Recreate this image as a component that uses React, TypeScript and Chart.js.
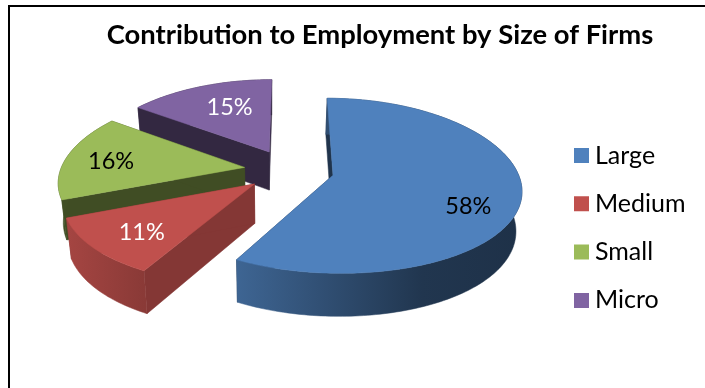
import React, { useEffect, useRef } from "react";
import { Chart, registerables } from "chart.js";

Chart.register(...registerables);

const categories = ["Large", "Medium", "Small", "Micro"];
const shares = [58, 11, 16, 15];
const topColors = ["#4f81bd", "#c0504d", "#9bbb59", "#8064a2"];
const labelColors = ["#000000", "#ffffff", "#000000", "#ffffff"];
const chartTitle = "Contribution to Employment by Size of Firms";

// Tilted-pie camera: where the pie hub lands on screen, and how strongly depth recedes.
const HUB = { x: 289, y: 170 };
const TILT_HEIGHT = 85;
const RECEDE_Y = 0.12;
const RECEDE_X = 0.15;
const WALL = { vanishX: 270, shrink: 0.976, depth: 38, depthGrow: 0.04, refY: 148 };
const RADIAL_SHADE = [0.4, 0.69, 0.41, 0.4];
const RIM_SHADE = [
  [[0, 0.78], [0.65, 0.42], [1, 0.38]],
  [[0, 0.86], [1, 0.72]],
  [[0, 0.42], [1, 0.42]],
  [[0, 0.4], [1, 0.4]],
];
const LABEL_RADIUS = 0.72;
const LABEL_NUDGE = [[1, 15], [0, 4], [-5, 2], [12, 4]];
const DRAW_ORDER = [0, 3, 2, 1];

function shade(hex: string, f: number) {
  const n = parseInt(hex.slice(1), 16);
  const c = [(n >> 16) & 255, (n >> 8) & 255, n & 255].map((v) => Math.round(v * f));
  return `rgb(${c[0]},${c[1]},${c[2]})`;
}

type P = { x: number; y: number };

const tiltedPie = {
  id: "tiltedPie",
  afterLayout(chart: any) {
    const t = chart.titleBlock;
    t.left = 0;
    t.right = 760;
    t.top = 35 - t.height / 2;
    const l = chart.legend;
    l.left = 557.2;
    l.top = 119.7;
  },
  beforeDatasetDraw(chart: any, args: any) {
    const ctx: CanvasRenderingContext2D = chart.ctx;
    const arcs = args.meta.data;
    const project = (mx: number, mz: number, R: number): P => ({
      x: HUB.x + mx / (1 - (RECEDE_X * mz) / R),
      y: HUB.y + (TILT_HEIGHT * (mz / R)) / (1 - (RECEDE_Y * mz) / R),
    });
    const lower = (p: P): P => ({
      x: WALL.vanishX + (p.x - WALL.vanishX) * WALL.shrink,
      y: p.y + WALL.depth + (p.y - WALL.refY) * WALL.depthGrow,
    });
    const polygon = (pts: P[], fill: string | CanvasGradient) => {
      ctx.beginPath();
      pts.forEach((p, i) => (i ? ctx.lineTo(p.x, p.y) : ctx.moveTo(p.x, p.y)));
      ctx.closePath();
      ctx.fillStyle = fill;
      ctx.fill();
      ctx.strokeStyle = fill;
      ctx.lineWidth = 0.5;
      ctx.stroke();
    };

    const geometry = arcs.map((el: any) => {
      const { startAngle, endAngle, outerRadius: R } = el.getProps(["startAngle", "endAngle", "outerRadius"]);
      const mid = (startAngle + endAngle) / 2;
      const off = el.options.offset;
      const ox = Math.cos(mid) * off;
      const oz = Math.sin(mid) * off;
      const at = (a: number, r: number) => project(ox + Math.cos(a) * r, oz + Math.sin(a) * r, R);
      const rim: P[] = [];
      const steps = Math.ceil((endAngle - startAngle) / 0.02);
      for (let s = 0; s <= steps; s++) rim.push(at(startAngle + ((endAngle - startAngle) * s) / steps, R));
      return { apex: at(0, 0), rim, mid, R, at };
    });

    DRAW_ORDER.forEach((i) => {
      const { apex, rim } = geometry[i];
      const base = topColors[i];
      const side = shade(base, RADIAL_SHADE[i]);
      const first = rim[0];
      const last = rim[rim.length - 1];
      polygon([apex, first, lower(first), lower(apex)], side);
      polygon([apex, last, lower(last), lower(apex)], side);
      const xs = rim.map((p: P) => p.x);
      const grad = ctx.createLinearGradient(Math.min(...xs), 0, Math.max(...xs), 0);
      RIM_SHADE[i].forEach(([stop, f]) => grad.addColorStop(stop, shade(base, f)));
      polygon([...rim, ...rim.map(lower).reverse()], grad);
      polygon([apex, ...rim], base);
    });

    ctx.font = "23.5px Lato";
    ctx.textAlign = "center";
    ctx.textBaseline = "middle";
    geometry.forEach((g: any, i: number) => {
      const p = g.at(g.mid, g.R * LABEL_RADIUS);
      ctx.fillStyle = labelColors[i];
      ctx.fillText(`${shares[i]}%`, p.x + LABEL_NUDGE[i][0], p.y + LABEL_NUDGE[i][1]);
    });
    return false;
  },
  beforeDraw(chart: any) {
    // Open frame along the top and left of the figure.
    const ctx: CanvasRenderingContext2D = chart.ctx;
    ctx.fillStyle = "#000";
    ctx.fillRect(8, 5, 697, 2);
    ctx.fillRect(8, 5, 2, 383);
  },
};

export default function App() {
  const ref = useRef<HTMLCanvasElement>(null);
  useEffect(() => {
    const chart = new Chart(ref.current!, {
      type: "pie",
      data: {
        labels: categories,
        datasets: [
          {
            data: shares,
            backgroundColor: topColors,
            borderWidth: 0,
            offset: 45,
            radius: 184,
            rotation: 0,
          } as any,
        ],
      },
      options: {
        responsive: false,
        animation: false,
        events: [],
        plugins: {
          tooltip: { enabled: false },
          title: {
            display: true,
            text: chartTitle,
            color: "#000",
            padding: 0,
            font: { family: "Lato", size: 27.4, weight: "bold" },
          },
          legend: {
            display: true,
            position: "right",
            align: "start",
            labels: {
              usePointStyle: true,
              pointStyle: "rect",
              boxWidth: 2,
              boxHeight: 15,
              padding: 23.3,
              color: "#000",
              font: { family: "Lato", size: 25 },
            },
          },
        },
      },
      plugins: [tiltedPie],
    } as any);
    return () => chart.destroy();
  }, []);
  return (
    <div style={{ position: "fixed", left: 0, top: 0, background: "#fff" }}>
      <canvas ref={ref} width={705} height={388} style={{ display: "block" }} />
    </div>
  );
}
